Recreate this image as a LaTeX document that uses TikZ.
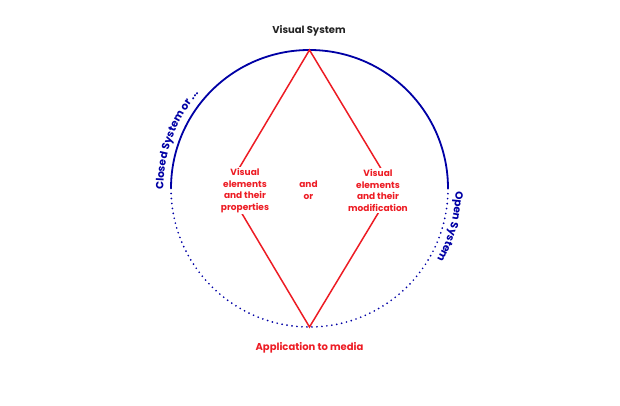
\documentclass[tikz,border=0pt]{standalone}
\usepackage{fontspec}
\setmainfont{Poppins}
\usetikzlibrary{decorations.text}
\definecolor{sysblue}{RGB}{0,0,165}
\definecolor{elemred}{RGB}{237,28,36}
\definecolor{titlegray}{RGB}{35,35,35}

\begin{document}
\begin{tikzpicture}[
  x=1pt, y=1pt,
  font=\fontsize{9}{11.6}\selectfont\bfseries,
  label/.style={align=center, inner sep=1pt, text=elemred, fill=white},
  edge/.style={elemred, line width=1.5pt},
  ring/.style={sysblue, line width=1.8pt},
  dotring/.style={sysblue, line width=1.9pt, line cap=round, dash pattern=on 0pt off 5pt}
]
\useasboundingbox (0,0) rectangle (620,406);
\coordinate (c) at (309.5,217.5);
\coordinate (top)   at (309.5,356);
\coordinate (bot)   at (309.5,79);
\coordinate (left)  at (227,217.5);
\coordinate (right) at (393,217.5);
% circle: closed upper half, dotted lower half
\draw[ring]    (c) ++(180:138.5) arc[start angle=180, end angle=0, radius=138.5];
\draw[dotring] (c) ++(180:138.5) arc[start angle=180, end angle=360, radius=138.5];
% diamond
\draw[edge] (top) -- (left) -- (bot) -- (right) -- cycle;
\node[label] (props) at (245,215.5) {Visual\\elements\\and their\\properties};
\node[label] (mods)  at (378,215.5) {Visual\\elements\\and their\\modification};
\node[label] (andor) at (308.5,216) {and\\or};
\node[text=titlegray, font=\fontsize{10}{12}\selectfont\bfseries] (vis) at (309,375) {Visual System};
\node[text=elemred, font=\fontsize{10}{12}\selectfont\bfseries]   (app) at (309.5,58.5) {Application to media};
% arc labels
\path[decorate, decoration={text along path, text align=left,
  text={|\fontsize{10.5}{12}\selectfont\bfseries\color{sysblue}|Closed System or ...}}]
  (c) ++(180.5:146) arc[start angle=180.5, end angle=120, radius=146];
\path[decorate, decoration={text along path, text align=left,
  text={|\fontsize{10.5}{12}\selectfont\bfseries\color{sysblue}|Open System}}]
  (c) ++(-1:146) arc[start angle=-1, end angle=-60, radius=146];
\end{tikzpicture}
\end{document}
